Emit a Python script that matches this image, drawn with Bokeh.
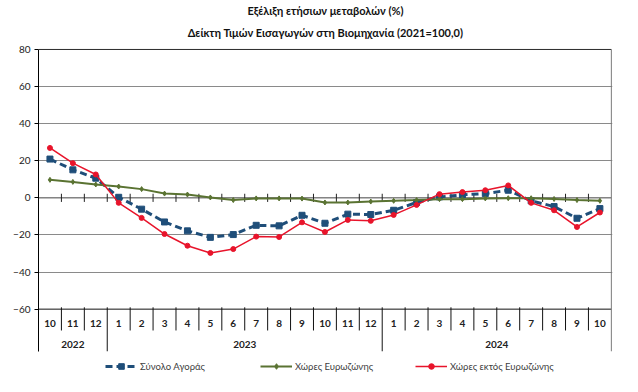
from bokeh.plotting import figure
from bokeh.models import Range1d, FixedTicker, Title, Legend, LegendItem
from bokeh.core.properties import value
from bokeh.embed import file_html
from bokeh.resources import INLINE

# ---- data ----
months = ["10", "11", "12", "1", "2", "3", "4", "5", "6", "7", "8", "9", "10", "11", "12",
          "1", "2", "3", "4", "5", "6", "7", "8", "9", "10"]
years = ["2022", "2023", "2024"]
year_counts = [3, 12, 10]
total = [20.9, 15.1, 10.6, 0.3, -6.1, -13.0, -17.8, -21.3, -19.8, -14.8, -15.1, -9.4, -13.7,
         -8.8, -9.0, -6.7, -2.5, 0.5, 1.6, 2.3, 4.1, -1.6, -4.7, -11.0, -5.8]
euro = [9.7, 8.6, 7.2, 6.1, 4.7, 2.3, 1.8, 0.2, -1.2, -0.3, -0.3, -0.4, -2.5, -2.5, -2.0,
        -1.6, -1.2, -0.7, -0.7, -0.3, -0.2, -0.2, -0.6, -1.2, -1.6]
non_euro = [26.9, 18.7, 12.6, -2.7, -10.8, -19.5, -25.8, -29.7, -27.6, -20.9, -21.1, -13.2,
            -18.4, -11.9, -12.4, -9.2, -3.8, 2.0, 3.1, 4.1, 6.7, -2.7, -6.7, -15.7, -7.9]
y_ticks = [-60, -40, -20, 0, 20, 40, 60, 80]
series_names = ["Σύνολο Αγοράς", "Χώρες Ευρωζώνης", "Χώρες εκτός Ευρωζώνης"]
title_lines = ["Εξέλιξη ετήσιων μεταβολών (%)", "Δείκτη Τιμών Εισαγωγών στη Βιομηχανία (2021=100,0)"]

FONT = "Lato"
BLUE = "#1F4E79"
GREEN = "#5A7332"
RED = "#E8142B"

n = len(months)
x = [i + 0.5 for i in range(n)]
Y_MIN = -82.7
Y_BOTTOM = -96.3
Y_TOP = 80.5

p = figure(frame_width=574, frame_height=328, x_range=Range1d(0, n + 0.05),
           y_range=Range1d(Y_BOTTOM, Y_TOP),
           output_backend="svg", toolbar_location=None, x_axis_location=None, title=None,
           min_border_left=38, min_border_right=8, min_border_top=0, min_border_bottom=4)
p.margin = (3, 0, 0, 0)
p.outline_line_color = None
p.background_fill_color = "white"

# y axis
ax = p.yaxis[0]
ax.ticker = FixedTicker(ticks=y_ticks)
ax.bounds = (Y_MIN, 80)
ax.axis_line_color = "black"
ax.axis_line_width = 1
ax.major_tick_out = 4
ax.major_tick_in = 0
ax.major_tick_line_color = "black"
ax.minor_tick_line_color = None
ax.major_label_text_font = FONT
ax.major_label_text_font_size = "10px"
ax.major_label_text_color = "#222222"
ax.major_label_standoff = 4

p.xgrid.visible = False
p.ygrid.ticker = FixedTicker(ticks=[-40, -20, 20, 40, 60])
p.ygrid.grid_line_color = "#8a8a8a"
p.ygrid.grid_line_width = 1

# dark horizontal lines at 80, 0, -60
p.segment(x0=[0, 0, 0], x1=[n, n, n], y0=[80, 0, -60], y1=[80, 0, -60],
          line_color=["#222222", "#444444", "#111111"], line_width=1)
# right border
p.segment(x0=[n], x1=[n], y0=[80], y1=[Y_MIN], line_color="#7a7a7a", line_width=1)

# tick marks on the zero axis at category boundaries
b = list(range(1, n))
p.segment(x0=b, x1=b, y0=[-2.2] * len(b), y1=[2.2] * len(b), line_color="#222222", line_width=1)

# category table separators
year_bounds = []
acc = 0
for c in year_counts:
    acc += c
    year_bounds.append(acc)
month_b = [v for v in b if v not in year_bounds]
p.segment(x0=month_b, x1=month_b, y0=[-59] * len(month_b), y1=[-71.5] * len(month_b),
          line_color="#111111", line_width=1)
yb = [v for v in year_bounds if v < n]
p.segment(x0=yb, x1=yb, y0=[-59] * len(yb), y1=[Y_MIN] * len(yb), line_color="#111111", line_width=1)

# month labels
p.text(x=x, y=[-68] * n, text=months, text_align="center", text_baseline="middle",
       text_font=value(FONT), text_font_style="bold", text_font_size="10px", text_color="#222222")
# year labels
centers = []
acc = 0
for c in year_counts:
    centers.append(acc + c / 2)
    acc += c
p.text(x=centers, y=[-78.8] * len(years), text=years, text_align="center", text_baseline="middle",
       text_font=value(FONT), text_font_style="bold", text_font_size="10px", text_color="#222222")

# series
bl = p.line(x, total, line_color=BLUE, line_width=3, line_dash="7 4")
bs = p.scatter(x, total, marker="square", size=6, fill_color=BLUE, line_color=BLUE)
gl = p.line(x, euro, line_color=GREEN, line_width=2)
gs = p.scatter(x, euro, marker="diamond", size=5, fill_color=GREEN, line_color=GREEN)
rl = p.line(x, non_euro, line_color=RED, line_width=1.5)
rs = p.scatter(x, non_euro, marker="circle", size=5, fill_color=RED, line_color=RED)

legend = Legend(items=[LegendItem(label=series_names[0], renderers=[bl, bs]),
                       LegendItem(label=series_names[1], renderers=[gl, gs]),
                       LegendItem(label=series_names[2], renderers=[rl, rs])],
                orientation="horizontal", location=(67, 3), glyph_width=32, glyph_height=14,
                label_standoff=3, label_width=120, spacing=0, padding=0, margin=0,
                border_line_color=None, background_fill_alpha=0,
                label_text_font=FONT, label_text_font_size="9.5px", label_text_color="#404040")
p.add_layout(legend, "center")

t2 = Title(text=title_lines[1], align="center", offset=-13, text_font=FONT, text_font_style="bold",
           text_font_size="11px", text_color="#111111", standoff=19)
t1 = Title(text=title_lines[0], align="center", offset=-13, text_font=FONT, text_font_style="bold",
           text_font_size="11px", text_color="#111111", standoff=-4)
p.add_layout(t2, "above")
p.add_layout(t1, "above")

open("out.html", "w").write(file_html(p, INLINE))
